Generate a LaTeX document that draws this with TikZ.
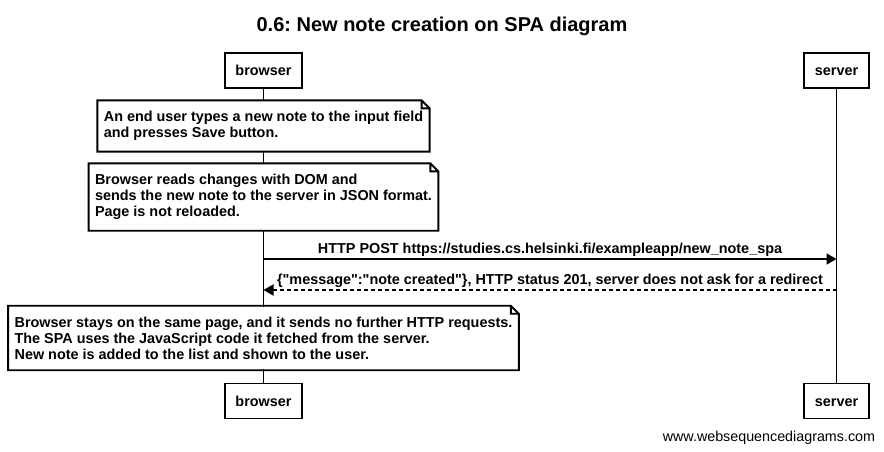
\documentclass[tikz,border=0pt]{standalone}
\usepackage{fontspec}
\setmainfont{Liberation Sans}
\usetikzlibrary{arrows.meta}
\frenchspacing

\begin{document}
\begin{tikzpicture}[x=1pt, y=-1pt, line width=1.9pt,
  actor/.style={draw, fill=white, font=\bfseries\fontsize{14.4}{16}\selectfont, inner xsep=10.5pt, text height=10.5pt, text depth=0pt, minimum height=35pt},
  note/.style={fill=white, align=left, font=\bfseries\fontsize{14.4}{16}\selectfont, inner xsep=5.5pt, inner ysep=10pt},
  msg/.style={-{Triangle[length=10pt,width=11pt]}},
  lbl/.style={font=\bfseries\fontsize{14.4}{16}\selectfont, inner sep=2pt}]
\useasboundingbox (0,0) rectangle (884,451);
\node[font=\bfseries\fontsize{20}{24}\selectfont, anchor=base] (title) at (442,31) {0.6: New note creation on SPA diagram};
\node[actor] (br0) at (263.5,70.5) {browser};
\node[actor] (sv0) at (836.5,70.5) {server};
\node[actor] (br1) at (263.5,401) {browser};
\node[actor] (sv1) at (836.5,401) {server};
\draw[](br0) -- (br1);
\draw[](sv0) -- (sv1);
\node[note] (nt1) at (263.5,126) {An end user types a new note to the input field\\and presses Save button.};
\node[note] (nt2) at (263.5,197) {Browser reads changes with DOM and\\sends the new note to the server in JSON format.\\Page is not reloaded.};
\node[note] (nt3) at (263.5,338) {Browser stays on the same page, and it sends no further HTTP requests.\\The SPA uses the JavaScript code it fetched from the server.\\New note is added to the list and shown to the user.};
\foreach \n in {nt1,nt2,nt3}
  \draw (\n.north west) -- ([xshift=-8pt]\n.north east) -- ([yshift=-8pt]\n.north east) -- (\n.south east) -- (\n.south west) -- cycle
    ([xshift=-8pt]\n.north east) -- ([xshift=-8pt,yshift=-8pt]\n.north east) -- ([yshift=-8pt]\n.north east);
\coordinate (m1a) at (263.5,259);
\coordinate (m1b) at (836.5,259);
\draw[msg](m1a) -- node[lbl, above] (l1) {HTTP POST https://studies.cs.helsinki.fi/exampleapp/new\_note\_spa} (m1b);
\coordinate (m2a) at (836.5,290);
\coordinate (m2b) at (263.5,290);
\draw[msg, dash pattern=on 4pt off 3pt](m2a) -- node[lbl, above] (l2) {\{\textquotedbl message\textquotedbl:\textquotedbl note created\textquotedbl\}, HTTP status 201, server does not ask for a redirect} (m2b);
\node[anchor=base east, font=\fontsize{14.3}{16}\selectfont, inner sep=0pt] (wsd) at (876,441) {www.websequencediagrams.com};

\end{tikzpicture}
\end{document}
